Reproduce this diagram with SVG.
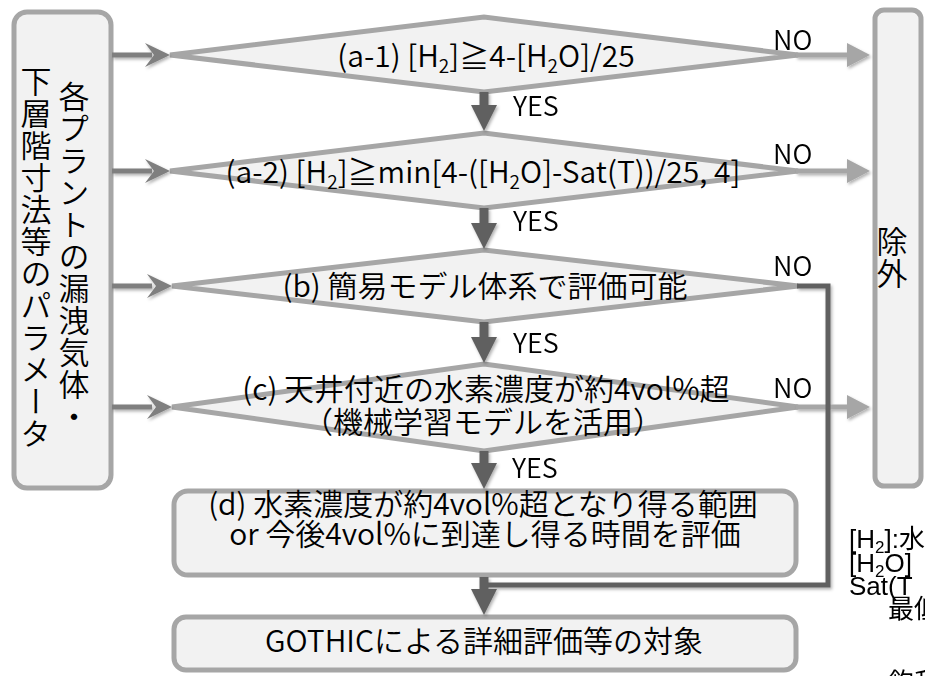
<svg xmlns="http://www.w3.org/2000/svg" xmlns:xlink="http://www.w3.org/1999/xlink" width="925" height="676" viewBox="0 0 925 676">
  <style>
    .box { fill: #f2f2f2; stroke: #a6a6a6; stroke-width: 5; }
    .dia { fill: #f2f2f2; stroke: #a6a6a6; stroke-width: 5; stroke-linejoin: miter; }
    .t { font-family: "Noto Sans CJK JP", "Noto Sans", sans-serif; font-size: 30px; font-weight: 350; fill: #000; }
    .c { text-anchor: middle; }
    .lbl { font-family: "Noto Sans CJK JP", "Noto Sans", sans-serif; font-size: 27px; font-weight: 350; fill: #000; }
    .vt { writing-mode: vertical-rl; font-size: 31px; letter-spacing: 1px; }
    .note { font-family: "Liberation Sans", "Noto Sans CJK JP", sans-serif; font-size: 26px; fill: #000; }
    .shaftL { stroke: #7f7f7f; stroke-width: 5; fill: none; }
    .shaftY { stroke: #606060; stroke-width: 9; fill: none; }
    .shaftN { stroke: #a6a6a6; stroke-width: 5; fill: none; }
    .route { stroke: #606060; stroke-width: 5; fill: none; }
    .headL { fill: #7f7f7f; }
    .headY { fill: #606060; }
    .headN { fill: #a6a6a6; }
  </style>
  <defs>
    <!-- arrowheads, tip at the origin -->
    <path id="tipIn" d="M0,0 L-25,-12 L-16,0 L-25,12 Z"/>
    <path id="tipDown" d="M0,0 L-13,-26 L13,-26 Z"/>
    <path id="tipOut" d="M0,0 L-23,-12 L-23,12 Z"/>
    <filter id="shadow" x="-20%" y="-20%" width="140%" height="140%">
      <feDropShadow dx="1.5" dy="2" stdDeviation="1.5" flood-color="#000" flood-opacity="0.3"/>
    </filter>
  </defs>

  <!-- input parameters -->
  <g id="params">
    <rect class="box" x="14" y="12" width="97" height="476" rx="13"/>
    <text class="t vt" x="74" y="81">各プラントの漏洩気体・</text>
    <text class="t vt" x="36" y="66">下層階寸法等のパラメータ</text>
  </g>

  <!-- excluded -->
  <g id="excluded">
    <rect class="box" x="875" y="10" width="46" height="476" rx="9"/>
    <text class="t vt" x="892" y="226">除外</text>
  </g>

  <!-- decision (a-1) -->
  <g id="cond-a1">
    <polygon class="dia" points="170,55 484,17 798,55 484,92"/>
    <text class="t c" x="486" y="67">(a-1) [H<tspan font-size="19" dy="6">2</tspan><tspan dy="-6">]≧4-[H</tspan><tspan font-size="19" dy="6">2</tspan><tspan dy="-6">O]/25</tspan></text>
  </g>

  <!-- decision (a-2) -->
  <g id="cond-a2">
    <polygon class="dia" points="170,171 484,133 798,171 484,208"/>
    <text class="t c" x="483" y="183" font-size="29">(a-2) [H<tspan font-size="19" dy="6">2</tspan><tspan dy="-6">]≧min[4-([H</tspan><tspan font-size="19" dy="6">2</tspan><tspan dy="-6">O]-Sat(T))/25, 4]</tspan></text>
  </g>

  <!-- decision (b) -->
  <g id="cond-b">
    <polygon class="dia" points="172,286 484,250 798,286 484,322"/>
    <text class="t c" x="485" y="297">(b) 簡易モデル体系で評価可能</text>
  </g>

  <!-- decision (c) -->
  <g id="cond-c">
    <polygon class="dia" points="172,407 484,364 798,407 484,451"/>
    <text class="t c" x="486" y="400">(c) 天井付近の水素濃度が約4vol%超</text>
    <text class="t c" x="483" y="433">（機械学習モデルを活用）</text>
  </g>

  <!-- evaluation (d) -->
  <g id="eval-d">
    <rect class="box" x="174" y="491" width="622" height="84" rx="14"/>
    <text class="t c" x="483" y="515">(d) 水素濃度が約4vol%超となり得る範囲</text>
    <text class="t c" x="485" y="545">or 今後4vol%に到達し得る時間を評価</text>
  </g>

  <!-- detailed evaluation -->
  <g id="gothic">
    <rect class="box" x="174" y="617" width="622" height="53" rx="12"/>
    <text class="t c" x="484" y="652">GOTHICによる詳細評価等の対象</text>
  </g>

  <!-- connectors -->
  <g id="connectors" filter="url(#shadow)">
    <path class="shaftL" d="M112,55 H152 M112,171 H152 M112,286 H152 M112,407 H152"/>
    <use href="#tipIn" class="headL" x="170" y="55"/>
    <use href="#tipIn" class="headL" x="170" y="171"/>
    <use href="#tipIn" class="headL" x="172" y="286"/>
    <use href="#tipIn" class="headL" x="172" y="407"/>

    <path class="shaftN" d="M796,55 H850 M796,171 H850 M796,407 H850"/>
    <use href="#tipOut" class="headN" x="870" y="55"/>
    <use href="#tipOut" class="headN" x="870" y="171"/>
    <use href="#tipOut" class="headN" x="870" y="407"/>

    <path class="route" d="M797,286 H828 V585 H484"/>

    <path class="shaftY" d="M484,92 V106 M484,208 V226 M484,322 V339 M484,451 V465 M484,577 V591"/>
    <use href="#tipDown" class="headY" x="484" y="131"/>
    <use href="#tipDown" class="headY" x="484" y="249"/>
    <use href="#tipDown" class="headY" x="484" y="363"/>
    <use href="#tipDown" class="headY" x="484" y="489"/>
    <use href="#tipDown" class="headY" x="484" y="615"/>
  </g>

  <!-- branch labels -->
  <g id="labels">
    <text class="lbl" x="513" y="116">YES</text>
    <text class="lbl" x="513" y="231">YES</text>
    <text class="lbl" x="513" y="353">YES</text>
    <text class="lbl" x="512" y="478">YES</text>
    <text class="lbl" x="773" y="50">NO</text>
    <text class="lbl" x="773" y="164">NO</text>
    <text class="lbl" x="773" y="276">NO</text>
    <text class="lbl" x="773" y="398">NO</text>
  </g>

  <!-- legend -->
  <g id="legend">
    <text class="note" x="849" y="548">[H<tspan font-size="17" dy="5">2</tspan><tspan dy="-5">]:水</tspan></text>
    <text class="note" x="849" y="572">[H<tspan font-size="17" dy="5">2</tspan><tspan dy="-5">O]</tspan></text>
    <text class="note" x="849" y="595">Sat(T</text>
    <text class="note" x="888" y="618">最低</text>
    <text class="note" x="888" y="692">飽和</text>
  </g>
</svg>
